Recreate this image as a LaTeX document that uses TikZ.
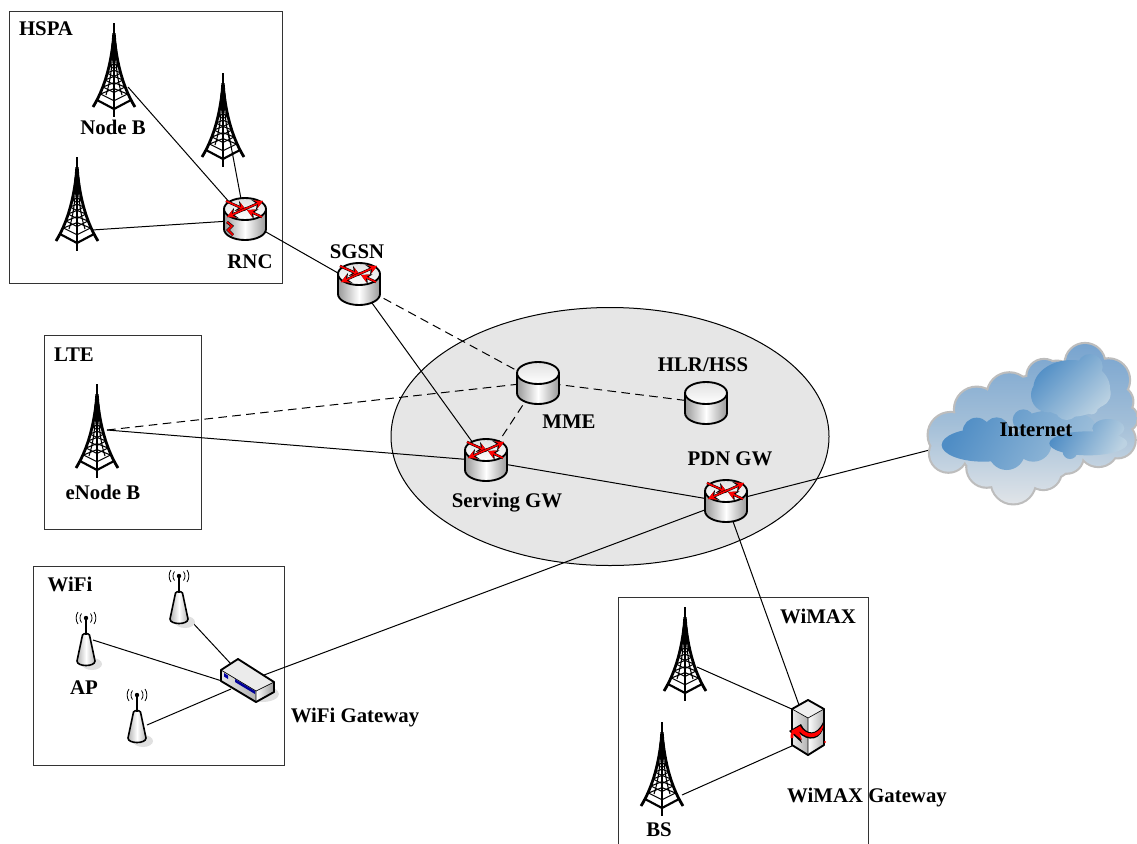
\documentclass[tikz,border=0pt]{standalone}
\usepackage{fontspec}
\setmainfont{Liberation Serif}
\usetikzlibrary{arrows.meta,shapes.geometric}
\definecolor{corefill}{HTML}{E6E6E6}
\definecolor{boxline}{HTML}{333333}
\definecolor{cloudedge}{HTML}{BDBDBD}
\definecolor{cloudtop}{HTML}{78A4CF}
\definecolor{cloudmid}{HTML}{A3BFD8}
\definecolor{cloudbot}{HTML}{E0E4E8}
\definecolor{cloudin}{HTML}{4F8DC5}
\definecolor{cloudlt}{HTML}{BCD2E2}
\definecolor{arrowred}{HTML}{FF0000}
\tikzset{
  lbl/.style={font=\fontsize{15.6}{17}\selectfont\bfseries,inner sep=0pt,text=black},
  regionbox/.style={draw=boxline,line width=.75pt,fill=white},
  link/.style={line width=.75pt,draw=black},
  ctrl/.style={link,dash pattern=on 6.5pt off 4pt},
  devline/.style={line width=1.4pt,draw=black,line join=round},
}
\newcommand{\redarrow}[4]{%
  \draw[black,line width=1.9pt,-{Stealth[length=7.5pt,width=8pt]}] (#1,#2) -- (#3,#4);
  \draw[arrowred,line width=1.2pt,-{Stealth[length=6pt,width=6.4pt]}] (#1,#2) -- (#3,#4);}
\newcommand{\towerdev}[2]{%
  \begin{scope}[shift={(#1,#2)}]
    \draw[line width=1.7pt] (0,0) -- (0,94);
    \fill (-1.6,10) -- (1.6,10) -- (3.6,36) -- (-3.6,36) -- cycle;
    \draw[line width=2.1pt] (-1,20) .. controls (-4,45) and (-10,66) .. (-21,84);
    \draw[line width=2.1pt] (1,20) .. controls (4,45) and (10,66) .. (21,84);
    \draw[line width=.8pt] (-1,25) .. controls (-2,45) and (-4,60) .. (-8,72);
    \draw[line width=.8pt] (1,25) .. controls (2,45) and (4,60) .. (8,72);
    \foreach \yy/\ww in {36/3.5,43/5,50/7,57/9,64/11,71/13.5}{
      \draw[line width=.8pt] (-\ww,\yy) -- (0,\yy+\ww*.5) -- (\ww,\yy);
      \draw[line width=.8pt] (-\ww,\yy) -- (0,\yy-\ww*.4) -- (\ww,\yy);
    }
    \draw[line width=1.6pt] (-17,77) -- (0,86) -- (17,77);
  \end{scope}}
\newcommand{\cylbody}[2]{%
  \shade[left color=black!40,right color=black!40,middle color=white]
    (#1-21,#2) -- (#1-21,#2+20) arc[start angle=180,end angle=360,x radius=21,y radius=-11]
    -- (#1+21,#2) -- cycle;
  \draw[devline] (#1-21,#2) -- (#1-21,#2+20) arc[start angle=180,end angle=360,x radius=21,y radius=-11] -- (#1+21,#2);
  \shade[top color=black!12,bottom color=white]
    (#1,#2) ellipse[x radius=21,y radius=11];
  \draw[devline] (#1,#2) ellipse[x radius=21,y radius=11];}
\newcommand{\routerdev}[2]{%
  \cylbody{#1}{#2-11}
  \begin{scope}[shift={(#1,#2-11)}]
    \redarrow{-19}{-8}{1}{1}
    \redarrow{17}{8}{2}{1}
    \redarrow{-2}{1}{18}{-8}
    \redarrow{2}{-1}{-18}{8}
  \end{scope}}
\newcommand{\apdev}[2]{%
  \begin{scope}[shift={(#1,#2)}]
    \fill[black!12] (6,46) ellipse[x radius=10,y radius=6];
    \shade[left color=black!30,right color=black!30,middle color=white,draw=black,line width=1.2pt,line join=round]
      (-3.5,17) .. controls (-2,15) and (2,15) .. (3.5,17) -- (9,43)
      .. controls (9,49) and (-9,49) .. (-9,43) -- cycle;
    \draw[line width=1.1pt] (0,0) -- (0,17);
    \fill (0,0) circle[radius=2.2];
    \foreach \s in {-1,1}{
      \draw[line width=.6pt] (\s*4.5,-4.5) .. controls (\s*6.5,-2) and (\s*6.5,2) .. (\s*4.5,4.5);
      \draw[line width=.6pt] (\s*8,-6) .. controls (\s*10.5,-2.5) and (\s*10.5,2.5) .. (\s*8,6);
    }
  \end{scope}}
\begin{document}
\begin{tikzpicture}[x=.75pt,y=-.75pt]
\useasboundingbox (0,0) rectangle (1137,843);
\clip (0,0) rectangle (1137,843);
\fill[white] (0,0) rectangle (1137,843);
% regions
\node[ellipse,draw=black,line width=.75pt,fill=corefill,minimum width=328.5pt,minimum height=193.5pt,inner sep=0pt] (core) at (610,436.5) {};
\draw[regionbox] (9.5,11.5) rectangle (282,283);
\draw[regionbox] (44,335.5) rectangle (201,529);
\draw[regionbox] (33.5,566) rectangle (284,765);
\draw[regionbox] (618.5,597.5) rectangle (868,860);
% anchors
\coordinate (nodebP) at (128,87);
\coordinate (t2P) at (228,130);
\coordinate (t3P) at (92,230);
\coordinate (rnc) at (245,220);
\coordinate (sgsn) at (359,285);
\coordinate (mme) at (538,382);
\coordinate (hlr) at (706,403);
\coordinate (sgw) at (486,461);
\coordinate (pgw) at (726,502);
\coordinate (enbP) at (107,430);
\coordinate (inet) at (1000,432);
\coordinate (ap1P) at (93,640);
\coordinate (ap2P) at (192,622);
\coordinate (ap3P) at (147,725);
\coordinate (wgwA) at (222,681);
\coordinate (wgwB) at (231,664);
\coordinate (wgwC) at (231,689);
\coordinate (wgwD) at (264,675);
\coordinate (t4P) at (697,667);
\coordinate (bsP) at (682,795);
\coordinate (xgwA) at (794,710);
\coordinate (xgwB) at (794,745);
\coordinate (xgwC) at (799,705);
% connectors
\draw[link] (nodebP) -- (rnc);
\draw[link] (t2P) -- (rnc);
\draw[link] (t3P) -- (rnc);
\draw[link] (rnc) -- (sgsn);
\draw[link] (sgsn) -- (sgw);
\draw[ctrl] (sgsn) -- (mme);
\draw[ctrl] (enbP) -- (mme);
\draw[link] (enbP) -- (sgw);
\draw[ctrl] (mme) -- (sgw);
\draw[ctrl] (mme) -- (hlr);
\draw[link] (sgw) -- (pgw);
\draw[link] (pgw) -- (inet);
\draw[link] (wgwD) -- (pgw);
\draw[link] (pgw) -- (xgwC);
\draw[link] (ap1P) -- (wgwA);
\draw[link] (ap2P) -- (wgwB);
\draw[link] (ap3P) -- (wgwC);
\draw[link] (t4P) -- (xgwA);
\draw[link] (bsP) -- (xgwB);
% towers
\towerdev{114}{23}
\towerdev{223}{73}
\towerdev{77}{157}
\towerdev{97}{384}
\towerdev{685}{607}
\towerdev{662}{722}
% routers and stores
\routerdev{245}{220}
\begin{scope}[shift={(230,228)}]
  \draw[black,line width=2pt] (-3,-6) -- (2,-2) -- (-2,2) -- (3,7);
  \draw[arrowred,line width=1.1pt] (-3,-6) -- (2,-2) -- (-2,2) -- (3,7);
\end{scope}
\routerdev{359}{285}
\routerdev{486}{461}
\routerdev{726}{502}
\cylbody{538}{373}
\cylbody{706}{393}
% access points
\apdev{86}{618}
\apdev{179}{576}
\apdev{137}{695}
% wifi gateway
\fill[black!12] (262,694) ellipse[x radius=17,y radius=8];
\fill[black!8] (221,670) -- (238,659) -- (274,682) -- (256,691) -- cycle;
\shade[left color=black!10,right color=black!30] (221,670) -- (256,691) -- (256,702) -- (221,681) -- cycle;
\shade[left color=white,right color=black!40] (256,691) -- (274,682) -- (274,692) -- (256,702) -- cycle;
\draw[devline] (221,670) -- (238,659) -- (274,682) -- (274,692) -- (256,702) -- (221,681) -- cycle;
\draw[line width=.5pt] (221,670) -- (256,691) -- (274,682) (256,691) -- (256,702);
\fill[blue!65!black] (224,673) -- (228,675.5) -- (228,679) -- (224,676.5) -- cycle;
\fill[blue!60!black] (235,679) -- (255,691) -- (255,694) -- (235,682) -- cycle;
% wimax gateway
\shade[left color=black!8,right color=black!30] (792,709) -- (808,718) -- (808,755) -- (792,745) -- cycle;
\shade[left color=white,right color=black!30] (808,718) -- (824,709) -- (824,745) -- (808,755) -- cycle;
\fill[black!6] (792,709) -- (808,700) -- (824,709) -- (808,718) -- cycle;
\draw[devline] (792,709) -- (808,700) -- (824,709) -- (824,745) -- (808,755) -- (792,745) -- cycle;
\draw[line width=.5pt] (792,709) -- (808,718) -- (824,709) (808,718) -- (808,755);
\fill[black] (824,725) .. controls (822,740) and (808,743) .. (798,732) -- (802,743) -- (789,731) -- (801,724)
  .. controls (806,735) and (817,736) .. (823,722) -- cycle;
\fill[arrowred] (823,727) .. controls (821,738) and (808,741) .. (799,731) -- (802,740) -- (791,731) -- (800,726)
  .. controls (806,736) and (817,736) .. (823,725) -- cycle;
\draw[arrowred,line width=2pt] (792,738) .. controls (791,731) and (796,730) .. (798,733);
\fill[arrowred] (825,742) circle[radius=1.2];
% cloud
\begin{scope}[shift={(920,330)},x=.25pt,y=-.25pt]
  \def\cloudpath{
    (92,315) circle (66) (85,370) circle (55) (170,238) circle (65) (268,195) circle (65)
    (372,140) circle (50) (410,150) circle (55) (495,100) circle (58) (565,150) circle (62)
    (592,215) circle (45) (615,265) circle (36) (592,330) circle (52) (535,350) circle (58)
    (440,380) circle (48) (370,425) circle (52) (280,455) circle (65) (200,412) circle (58)
    (340,300) circle (160) (460,240) circle (140) (230,340) circle (110)}
  \draw[cloudedge,line width=3.2pt] \cloudpath;
  \shade[top color=cloudtop,bottom color=cloudbot,middle color=cloudmid] \cloudpath;
  % lower left puff
  \shade[top color=cloudin,bottom color=cloudin!30!cloudlt,shading angle=60]
    (190,345) ellipse[x radius=125,y radius=50] (170,305) circle (42) (230,300) circle (38)
    (260,365) circle (55) (310,270) circle (32) (410,285) ellipse[x radius=115,y radius=45]
    (340,340) circle (55);
  % upper right puff
  \shade[top color=cloudin,bottom color=cloudlt,shading angle=45]
    (455,175) ellipse[x radius=115,y radius=85] (385,195) circle (52) (420,130) circle (28)
    (510,110) circle (38) (530,190) circle (42) (440,235) circle (35) (515,235) circle (18);
  % lower right puff
  \shade[top color=cloudin,bottom color=cloudlt,shading angle=60]
    (505,340) ellipse[x radius=117,y radius=36] (565,295) ellipse[x radius=48,y radius=28]
    (450,365) circle (22);
\end{scope}
% labels
\node[lbl] (lHSPA) at (46,29) {HSPA};
\node[lbl] (lNodeB) at (113,127) {Node B};
\node[lbl] (lRNC) at (250,262) {RNC};
\node[lbl] (lSGSN) at (357,252) {SGSN};
\node[lbl] (lLTE) at (74,355) {LTE};
\node[lbl] (lENB) at (103,492) {eNode B};
\node[lbl] (lMME) at (569,422) {MME};
\node[lbl] (lHLR) at (703,365) {HLR/HSS};
\node[lbl] (lSGW) at (507,503) {Serving GW};
\node[lbl] (lPGW) at (730,459) {PDN GW};
\node[lbl] (lWiFi) at (70,584) {WiFi};
\node[lbl] (lAP) at (84,688) {AP};
\node[lbl] (lWGW) at (355,718) {WiFi Gateway};
\node[lbl] (lMAX) at (818,616) {WiMAX};
\node[lbl] (lXGW) at (867,798) {WiMAX Gateway};
\node[lbl] (lBS) at (659,830) {BS};
\node[lbl] (lNet) at (1036,430) {Internet};
\end{tikzpicture}
\end{document}
